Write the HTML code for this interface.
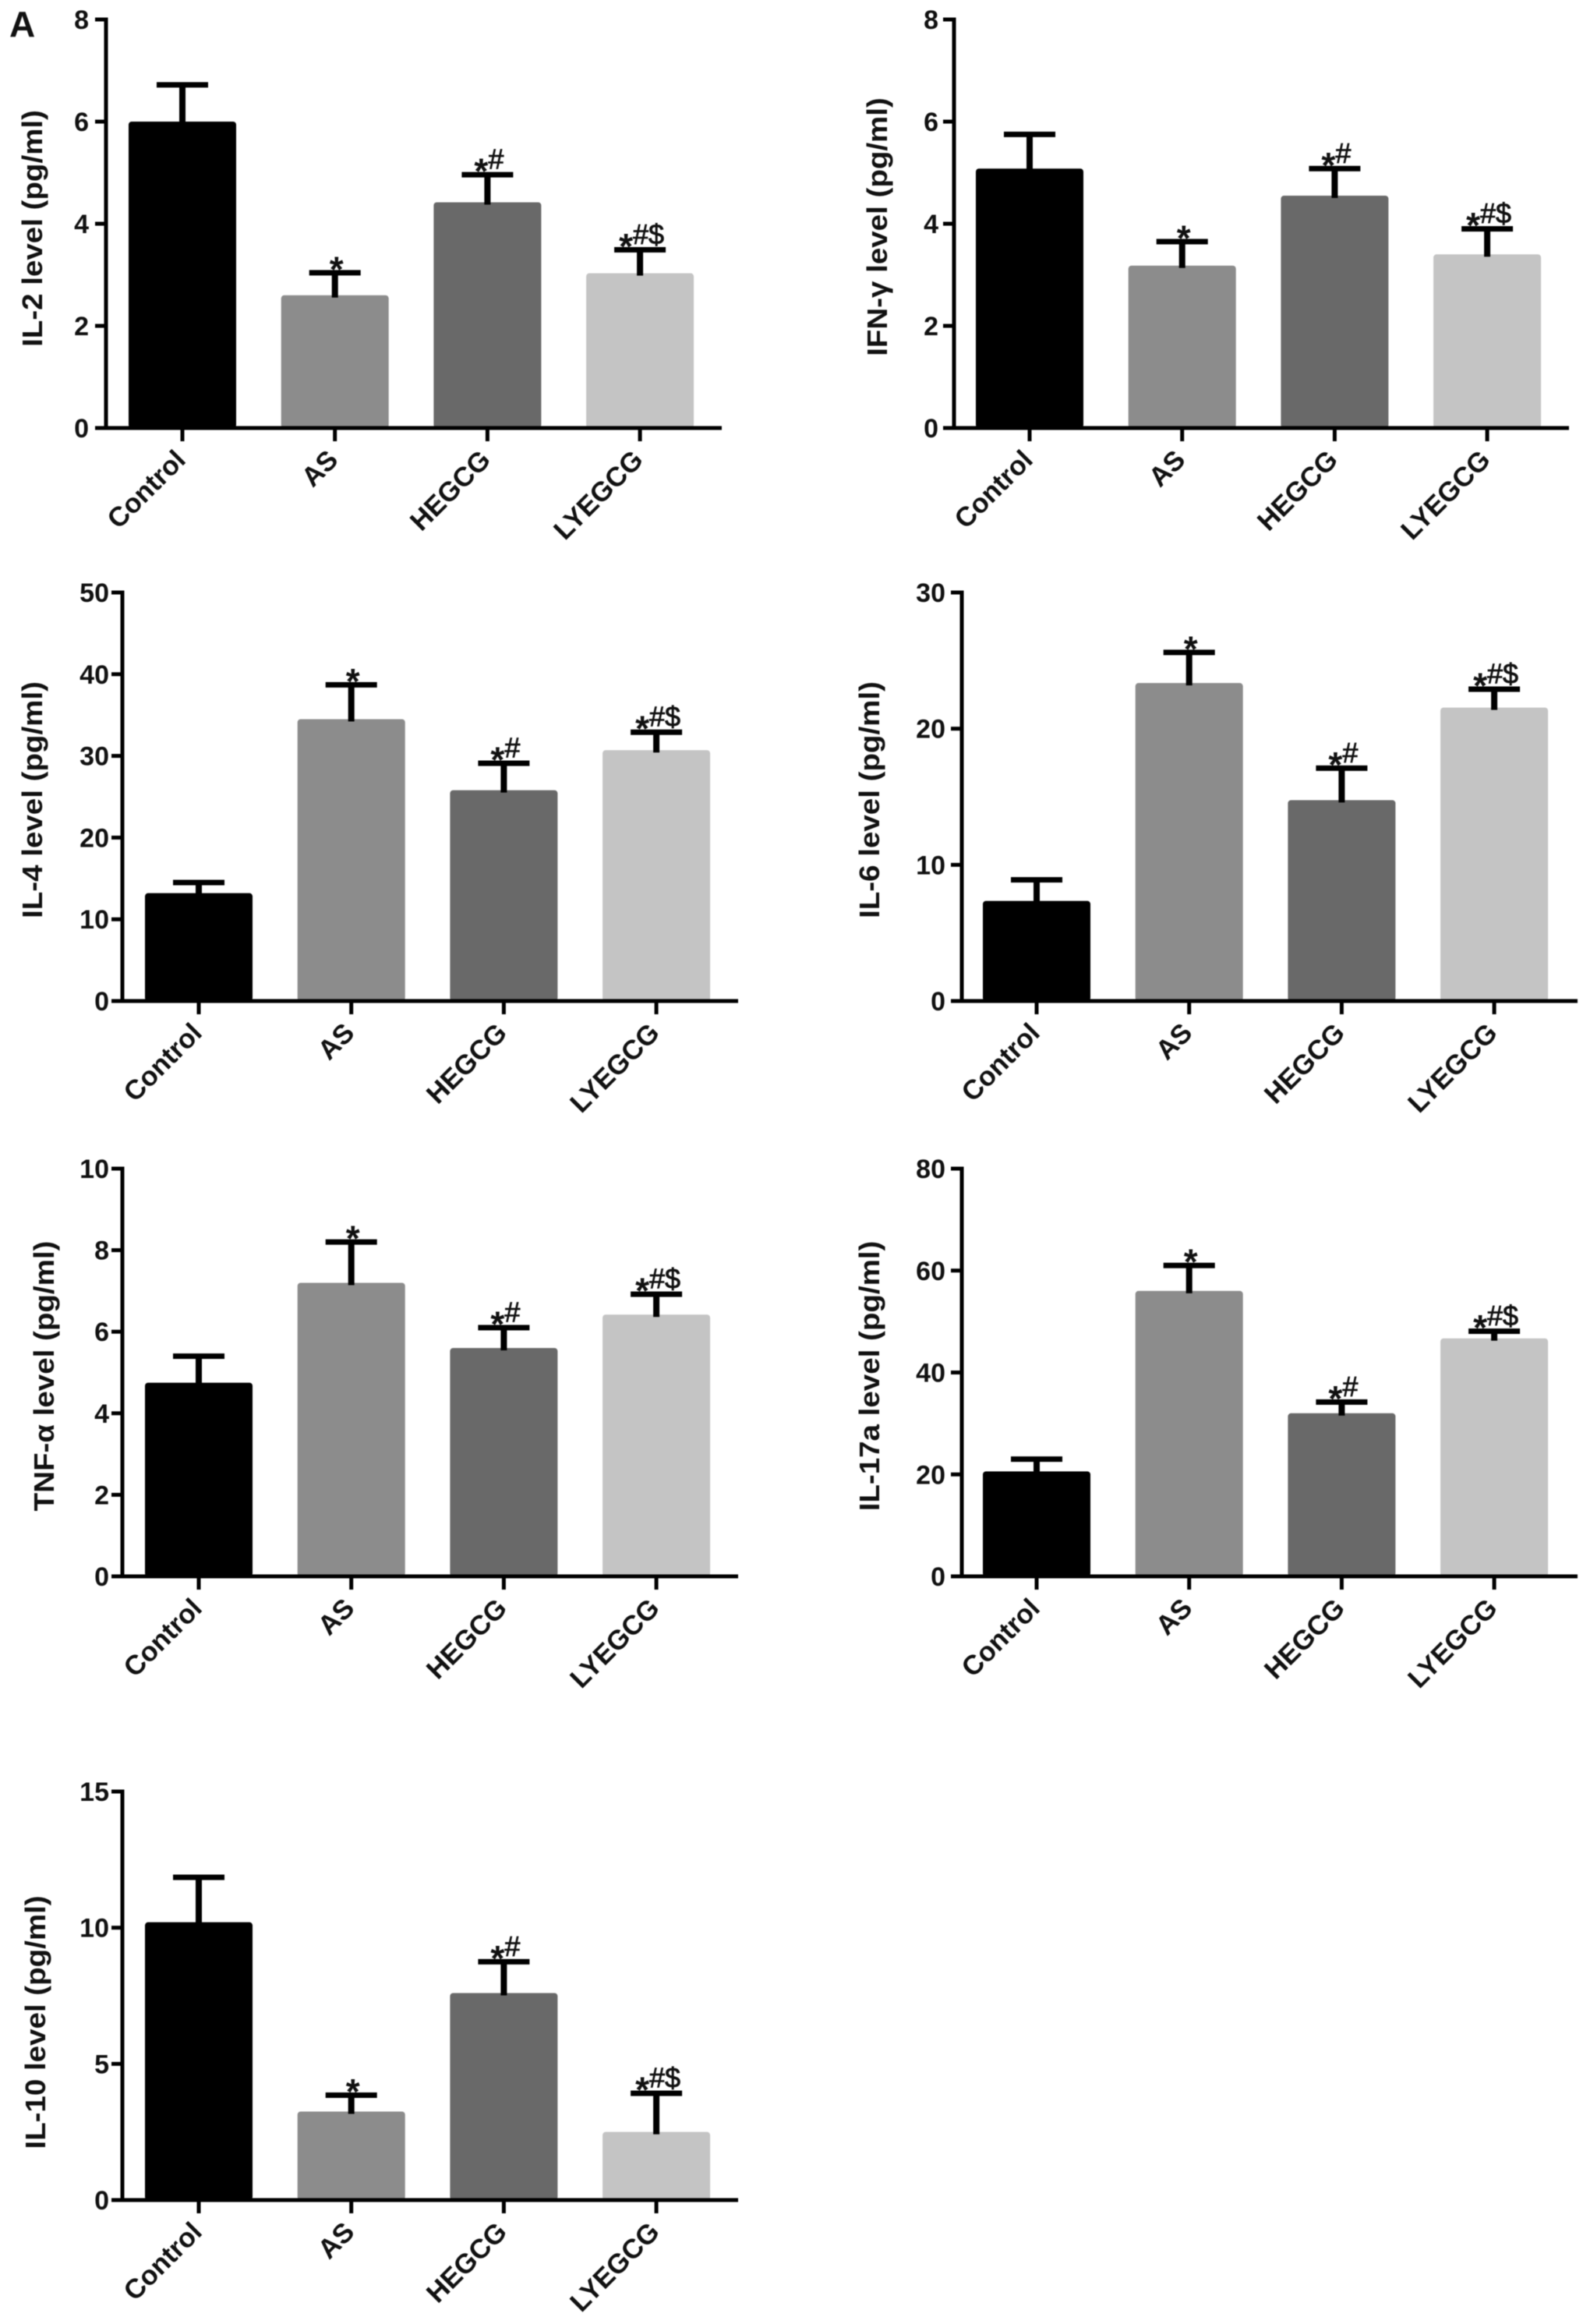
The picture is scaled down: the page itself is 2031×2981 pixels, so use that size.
<!DOCTYPE html>
<html lang="en">
<head>
<meta charset="utf-8">
<title>Cytokine levels by group</title>
<style>
html,body{margin:0;padding:0;background:#fff;}
#figure{display:block;filter:blur(0.6px);}
text{font-family:"Liberation Sans",sans-serif;fill:#111;}
.tick-label{font-weight:700;font-size:34px;}
.cat-label{font-weight:700;font-size:35px;}
.axis-title{font-weight:700;font-size:36px;}
.mark{font-size:36px;stroke:#111;stroke-width:0.8px;}
.mark-star{font-size:46px;font-weight:700;stroke-width:0;}
.panel-letter{font-weight:700;font-size:46px;}
</style>
</head>
<body>
<svg id="figure" xmlns="http://www.w3.org/2000/svg" width="2031" height="2981" viewBox="0 0 2031 2981">
<rect width="2031" height="2981" fill="#ffffff"></rect>
<text class="panel-letter" x="12" y="47">A</text>
</svg>
<script>
const categories = ['Control', 'AS', 'HEGCG', 'LYEGCG'];
const significance = ['', '*', '*#', '*#$'];

const il2Ticks = [0, 2, 4, 6, 8];
const il2Values = [6.0, 2.6, 4.42, 3.03];
const il2ErrorTops = [6.72, 3.04, 4.96, 3.49];

const ifnTicks = [0, 2, 4, 6, 8];
const ifnValues = [5.08, 3.18, 4.55, 3.4];
const ifnErrorTops = [5.75, 3.65, 5.08, 3.9];

const il4Ticks = [0, 10, 20, 30, 40, 50];
const il4Values = [13.2, 34.5, 25.8, 30.7];
const il4ErrorTops = [14.5, 38.7, 29.1, 32.9];

const il6Ticks = [0, 10, 20, 30];
const il6Values = [7.35, 23.35, 14.75, 21.55];
const il6ErrorTops = [8.9, 25.6, 17.1, 22.9];

const tnfTicks = [0, 2, 4, 6, 8, 10];
const tnfValues = [4.75, 7.2, 5.6, 6.42];
const tnfErrorTops = [5.4, 8.2, 6.1, 6.92];

const il17Ticks = [0, 20, 40, 60, 80];
const il17Values = [20.6, 56.0, 32.0, 46.7];
const il17ErrorTops = [23.0, 61.0, 34.2, 48.1];

const il10Ticks = [0, 5, 10, 15];
const il10Values = [10.2, 3.25, 7.6, 2.5];
const il10ErrorTops = [11.85, 3.85, 8.75, 3.92];

const barColors = ['#000000', '#8c8c8c', '#696969', '#c4c4c4'];

const panels = [
  {id:'il-2', title:'IL-2 level (pg/ml)', ticks:il2Ticks, values:il2Values, tops:il2ErrorTops,
   axisX:136, xEnd:926, first:234, yTop:25, yBase:549, labelGap:22, titleX:54, titleY:293},
  {id:'ifn-gamma', title:'IFN-γ level (pg/ml)', ticks:ifnTicks, values:ifnValues, tops:ifnErrorTops,
   axisX:1224, xEnd:2013, first:1321, yTop:25, yBase:549, labelGap:20, titleX:1138, titleY:291},
  {id:'il-4', title:'IL-4 level (pg/ml)', ticks:il4Ticks, values:il4Values, tops:il4ErrorTops,
   axisX:157, xEnd:947, first:255, yTop:760, yBase:1284, labelGap:17, titleX:54, titleY:1026},
  {id:'il-6', title:'IL-6 level (pg/ml)', ticks:il6Ticks, values:il6Values, tops:il6ErrorTops,
   axisX:1234, xEnd:2024, first:1330, yTop:760, yBase:1284, labelGap:21, titleX:1128, titleY:1026},
  {id:'tnf-alpha', title:'TNF-α level (pg/ml)', ticks:tnfTicks, values:tnfValues, tops:tnfErrorTops,
   axisX:157, xEnd:947, first:255, yTop:1499, yBase:2022, labelGap:17, titleX:69, titleY:1765},
  {id:'il-17a', title:'IL-17a level (pg/ml)', ticks:il17Ticks, values:il17Values, tops:il17ErrorTops,
   axisX:1234, xEnd:2024, first:1330, yTop:1499, yBase:2022, labelGap:21, titleX:1128, titleY:1765},
  {id:'il-10', title:'IL-10 level (pg/ml)', ticks:il10Ticks, values:il10Values, tops:il10ErrorTops,
   axisX:157, xEnd:947, first:255, yTop:2298, yBase:2822, labelGap:17, titleX:58, titleY:2594}
];

const SVG_NS = 'http://www.w3.org/2000/svg';
const figure = document.getElementById('figure');
const BAR_W = 138, BAR_STEP = 195.7, CAP_W = 66, CAP_H = 7, STEM_W = 8, AXIS_W = 5, TICK_LEN = 14;

function make(tag, attrs, parent) {
  const node = document.createElementNS(SVG_NS, tag);
  for (const key in attrs) node.setAttribute(key, attrs[key]);
  parent.appendChild(node);
  return node;
}

panels.forEach(function (p) {
  const yScale = function (v) {
    const max = p.ticks[p.ticks.length - 1];
    return p.yBase - (v / max) * (p.yBase - p.yTop);
  };
  const xScale = function (i) { return p.first + i * BAR_STEP; };

  const g = make('g', {}, figure);
  
  

  p.values.forEach(function (v, i) {
    const cx = xScale(i);
    const top = yScale(v);
    const errY = yScale(p.tops[i]);

    const bar = make('rect', {x: cx - BAR_W / 2, y: top, width: BAR_W, height: p.yBase - top, rx: 4, fill: barColors[i]}, g);
    
    

    const stem = make('rect', {x: cx - STEM_W / 2, y: errY, width: STEM_W, height: top + 3 - errY, fill: '#000'}, g);
    
    

    const cap = make('rect', {x: cx - CAP_W / 2, y: errY - CAP_H / 2, width: CAP_W, height: CAP_H, fill: '#000'}, g);
    
    

    const sig = significance[i];
    if (sig) {
      const rest = sig.slice(1);
      const label = make('text', {class: 'mark', x: cx + 2, y: errY - CAP_H / 2 - 4, 'text-anchor': 'middle'}, g);
      
      
      const star = make('tspan', {dy: 19, class: 'mark-star'}, label);
      star.textContent = sig.charAt(0);
      if (rest) {
        const others = make('tspan', {dy: -19}, label);
        others.textContent = rest;
      }
    }

    const tick = make('line', {x1: cx, x2: cx, y1: p.yBase, y2: p.yBase + 17, stroke: '#000', 'stroke-width': AXIS_W}, g);
    
    

    const lx = cx + 6, ly = p.yBase + 43;
    const cat = make('text', {class: 'cat-label', x: lx, y: ly, 'text-anchor': 'end', transform: 'rotate(-45 ' + lx + ' ' + ly + ')'}, g);
    
    
    cat.textContent = categories[i];
  });

  const yAxis = make('line', {x1: p.axisX, x2: p.axisX, y1: p.yTop - 2.5, y2: p.yBase, stroke: '#000', 'stroke-width': AXIS_W}, g);
  
  

  const xAxis = make('line', {x1: p.axisX - TICK_LEN, x2: p.xEnd, y1: p.yBase, y2: p.yBase, stroke: '#000', 'stroke-width': AXIS_W}, g);
  
  

  p.ticks.forEach(function (t) {
    const y = yScale(t);
    const tick = make('line', {x1: p.axisX - TICK_LEN, x2: p.axisX, y1: y, y2: y, stroke: '#000', 'stroke-width': AXIS_W}, g);
    
    

    const label = make('text', {class: 'tick-label', x: p.axisX - p.labelGap, y: y + 12, 'text-anchor': 'end'}, g);
    
    
    label.textContent = t;
  });

  const title = make('text', {class: 'axis-title', 'text-anchor': 'middle',
    transform: 'translate(' + p.titleX + ' ' + p.titleY + ') rotate(-90) scale(1.07 1)'}, g);
  
  
  title.textContent = p.title;
});
</script>
</body>
</html>
